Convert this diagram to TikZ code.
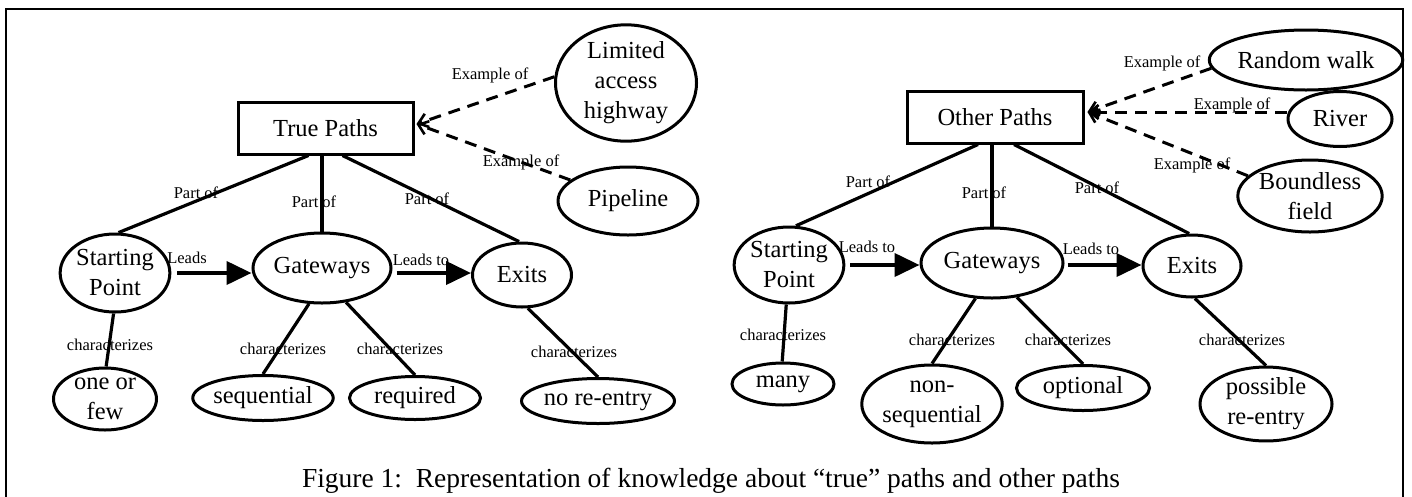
\documentclass[tikz,border=0pt]{standalone}
\usepackage{fontspec}
\setmainfont{Liberation Serif}
\usetikzlibrary{arrows.meta,shapes.geometric}
\tikzset{
  nd/.style={draw,line width=3pt,ellipse,inner sep=0pt,align=center,font=\fontsize{24.5}{30}\selectfont},
  bx/.style={draw,line width=3pt,rectangle,inner sep=0pt,font=\fontsize{24.5}{30}\selectfont},
  lbl/.style={inner sep=0pt,font=\fontsize{16.5}{18}\selectfont},
  con/.style={line width=3.2pt},
  ex/.style={line width=3pt,dash pattern=on 12pt off 8pt,-{Straight Barb[length=9pt,width=14pt,line width=2.6pt]}},
  leads/.style={line width=4pt,-{Triangle[length=25pt,width=23pt]}},
}
\begin{document}
\begin{tikzpicture}[x=1pt,y=-1pt]
\useasboundingbox (0,0) rectangle (1412,496);
% frame
\draw[line width=2.5pt] (6,520) -- (6,9) -- (1403,9) -- (1403,520);

% ---------------- left ----------------
\node[bx,minimum width=175pt,minimum height=52pt] (tp) at (325.5,128) {True Paths};
\node[nd,minimum width=141pt,minimum height=113pt] (lah) at (626,83) {Limited\\access\\highway};
\node[nd,minimum width=140pt,minimum height=68pt] (pipe) at (628,201) {Pipeline};
\node[nd,minimum width=97pt,minimum height=78pt] (spa) at (115,273) {Starting\\Point};
\node[nd,minimum width=138pt,minimum height=70pt] (gwa) at (322,268) {Gateways};
\node[nd,minimum width=99pt,minimum height=64pt] (exa) at (522,275) {Exits};
\node[nd,minimum width=103pt,minimum height=62pt] (ofa) at (105,399) {one or\\few};
\node[nd,minimum width=133pt,minimum height=45pt] (seqa) at (263,398) {sequential};
\node[nd,minimum width=131pt,minimum height=43pt] (reqa) at (415,398) {required};
\node[nd,minimum width=130pt,minimum height=45pt] (nrea) at (598,401) {no re-entry};

\coordinate (tpt) at ([shift={(2pt,4pt)}]tp.east);
\draw[ex] (lah.175) -- (tpt);
\draw[ex] (pipe.160) -- (tpt);
\draw[con] ([xshift=-17pt]tp.south) -- (spa.85);
\draw[con] (tp.south -| gwa.north) -- (gwa.north);
\draw[con] ([xshift=17pt]tp.south) -- (exa.95);
\draw[leads] ([xshift=6pt]spa.east) -- (spa.east -| gwa.west);
\draw[leads] ([xshift=4pt]gwa.east |- spa.east) -- (spa.east -| exa.west);
\draw[con] (spa.268) -- (ofa.88);
\draw[con] (gwa.250) -- (seqa.90);
\draw[con] (gwa.305) -- (reqa.90);
\draw[con] (exa.280) -- (nrea.90);

\node[lbl] (la1) at (196,193) {Part of};
\node[lbl] (la2) at (314,202) {Part of};
\node[lbl] (la3) at (427,199) {Part of};
\node[lbl] (la4) at (490,75) {Example of};
\node[lbl] (la5) at (521,162) {Example of};
\node[lbl] (la6) at (187,258) {Leads};
\node[lbl] (la7) at (421,260) {Leads to};
\node[lbl] (la8) at (110,345) {characterizes};
\node[lbl] (la9) at (283,349) {characterizes};
\node[lbl] (la10) at (400,349) {characterizes};
\node[lbl] (la11) at (574,352) {characterizes};

% ---------------- right ----------------
\node[bx,minimum width=176pt,minimum height=52pt] (op) at (995,117) {Other Paths};
\node[nd,minimum width=152pt,minimum height=60pt] (rw) at (1306,60) {Random walk};
\node[nd,minimum width=104pt,minimum height=55pt] (riv) at (1340,119) {River};
\node[nd,minimum width=135pt,minimum height=72pt] (bf) at (1310,196) {Boundless\\field};
\node[nd,minimum width=95pt,minimum height=76pt] (spb) at (789,265) {Starting\\Point};
\node[nd,minimum width=142pt,minimum height=70pt] (gwb) at (992,263) {Gateways};
\node[nd,minimum width=98pt,minimum height=62pt] (exb) at (1192,266) {Exits};
\node[nd,minimum width=102pt,minimum height=42pt] (many) at (783,384) {many};
\node[nd,minimum width=131pt,minimum height=78pt] (nsq) at (932,404) {non-\\sequential};
\node[nd,minimum width=133pt,minimum height=45pt] (opt) at (1083,388) {optional};
\node[nd,minimum width=132pt,minimum height=72pt] (pre) at (1266,404) {possible\\re-entry};

\coordinate (opt0) at ([shift={(3pt,5pt)}]op.east);
\draw[ex] (rw.185) -- (opt0);
\draw[ex] (riv.west |- opt0) -- (opt0);
\draw[ex] (bf.162) -- (opt0);
\draw[con] ([xshift=-17pt]op.south) -- (spb.80);
\draw[con] (op.south -| gwb.north) -- (gwb.north);
\draw[con] ([xshift=19pt]op.south) -- (exb.95);
\draw[leads] ([xshift=5pt]spb.east) -- (spb.east -| gwb.west);
\draw[leads] ([xshift=3pt]gwb.east |- spb.east) -- (spb.east -| exb.west);
\draw[con] (spb.266) -- (many.92);
\draw[con] (gwb.245) -- (nsq.90);
\draw[con] (gwb.306) -- (opt.90);
\draw[con] (exb.275) -- (pre.90);

\node[lbl] (lb1) at (868,182) {Part of};
\node[lbl] (lb2) at (984,193) {Part of};
\node[lbl] (lb3) at (1097,188) {Part of};
\node[lbl] (lb4) at (1162,63) {Example of};
\node[lbl] (lb5) at (1232,105) {Example of};
\node[lbl] (lb6) at (1192,165) {Example of};
\node[lbl] (lb7) at (867,247) {Leads to};
\node[lbl] (lb8) at (1091,249) {Leads to};
\node[lbl] (lb9) at (783,335) {characterizes};
\node[lbl] (lb10) at (952,340) {characterizes};
\node[lbl] (lb11) at (1068,340) {characterizes};
\node[lbl] (lb12) at (1242,340) {characterizes};

\node[inner sep=0pt,anchor=base,font=\fontsize{27.5}{30}\selectfont] (cap) at (711,487) {Figure 1:\ \ Representation of knowledge about “true” paths and other paths};
\end{tikzpicture}
\end{document}
